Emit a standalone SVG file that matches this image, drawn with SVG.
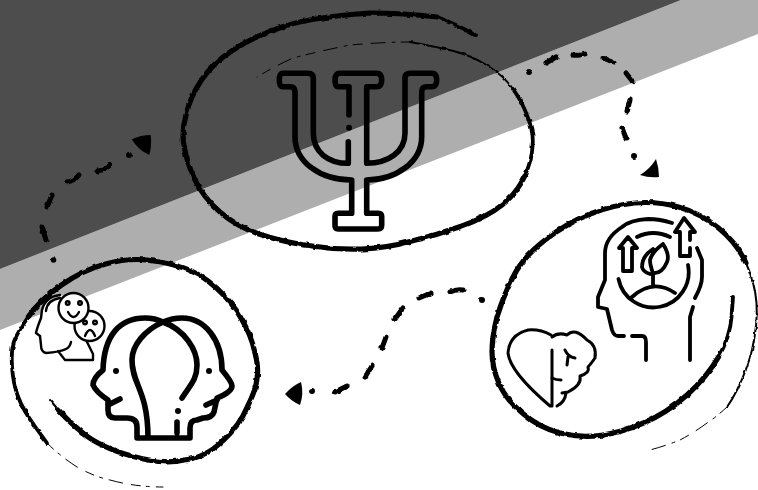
<svg xmlns="http://www.w3.org/2000/svg" width="758" height="490" viewBox="0 0 758 490">
<style>
.ink{fill:none;stroke:#000;stroke-linecap:round;stroke-linejoin:round}
.i5{stroke-width:5.600}.i3{stroke-width:3.800}.i2{stroke-width:2.400}
.b1{stroke-width:2}.b2{stroke-width:3.800}.b3{stroke-width:5.200}
.faint{fill:none;stroke:#000;stroke-width:1;stroke-linecap:round;stroke-dasharray:9 6 3 7 14 9}
.dash{fill:none;stroke:#000;stroke-width:5;stroke-linecap:round}
.w{fill:#fff}
</style>
<defs>
<filter id="rough" x="-5%" y="-5%" width="110%" height="110%">
<feTurbulence type="fractalNoise" baseFrequency="0.16" numOctaves="2" seed="4"/>
<feDisplacementMap in="SourceGraphic" scale="3" xChannelSelector="R" yChannelSelector="G"/>
</filter>
</defs>
<rect width="758" height="490" fill="#fff"/>
<polygon points="0,330 758,34 758,0 681,0 0,269" fill="#aeaeae"/>
<polygon points="0,0 681,0 0,269" fill="#4d4d4d"/>

<g id="connectors">
<g id="connector-left" filter="url(#rough)">
<path class="dash" d="M98,171 Q105,170 110,165 M67,182 Q74,181 79,175 M52,195 L47,207 M42,227 L46,240"/>
<circle cx="129" cy="155" r="3"/><circle cx="53.500" cy="260" r="2.800"/>
</g>
<path d="M131.700,139.300 Q141,135 150.700,135 Q152,146 149.300,155 Q138,150 131.700,139.300Z"/>
<g id="connector-top" filter="url(#rough)">
<path class="dash" d="M546,63 L556,57 M573,55 Q579,56 585,54 M603,58 L613,62 M626,73 L633,82 M630,100 L627,111 M622,128 L626,138"/>
<circle cx="529" cy="72" r="3"/><circle cx="634" cy="156" r="3"/>
</g>
<path d="M640,175 Q650,169 656,159 Q659,168 659,177 Q649,178 640,175Z"/>
<g id="connector-bottom" filter="url(#rough)">
<path class="dash" d="M450,292 Q456,289 463,290 M419,298 L431,293 M403,308 L395,319 M386,337 L382,348 M372,366 L365,377 M347,386 L335,392"/>
<circle cx="482" cy="300" r="3"/><circle cx="312" cy="391" r="3"/>
</g>
<path d="M285,394 Q292,386 301,382 Q304,394 300,405 Q291,401 285,394Z"/>
</g>

<g id="node-psi">
<g filter="url(#rough)">
<path class="ink b3" d="M437,17 Q403,13 370,13 Q303,18 278,28.500 Q253,37 233,50 Q213,63 201.500,80 Q190,97 186,115 Q181,133 184.500,148 Q187,163 195,180 Q203,197 220,212 Q237,227 262,235 Q287,243 312,246 Q337,250 362,249 Q387,248 412,241 Q437,235 462,226 Q487,217 502,205 Q517,193 524.500,176.500"/>
<path class="ink b2" d="M475,35 Q456,24 437,17 M524.500,176.500 Q532,160 532.500,146.500 Q534,133 528,118 Q523,103 513,89"/>
<path class="ink b1" d="M513,89 Q503,75 486.500,65 Q470,55 453.500,51 Q437,47 410,42"/>
</g>
<path class="faint" d="M410,42 Q385,42 350,45 Q320,51 293,58 Q275,66 257,77"/>
<path class="ink i5" d="M283,73.300 H308 Q313.300,73.300 313.300,78.300 V133 C313.300,152 328,163.300 348.300,163.300 V141.700 M349,115 V86.700 H338 Q335,86.700 335,80 Q335,73.300 340,73.300 H376.700 Q381.700,73.300 381.700,80 Q381.700,86.700 376.700,86.700 H366.700 V163.300 C388,163.300 405,152 405,133.300 V78 Q405,73.300 410,73.300 H432 Q436.700,73.300 436.700,80 Q436.700,86.700 431.700,86.700 H426.700 Q421.700,86.700 421.700,91.700 V136.700 C421.700,162 396,180 366.700,180 V213.300 H378.300 Q381.700,213.300 381.700,216.700 V225 Q381.700,229 378,229 H338 Q335,229 335,225 V216.700 Q335,213.300 338,213.300 H351.700 V180 C320,180 295,162 295,136.700 V91.700 Q295,86.700 290,86.700 H283 Q279.300,86.700 279.300,80 Q279.300,73.300 283,73.300"/>
<circle cx="349" cy="127.700" r="3"/>
</g>

<g id="node-faces">
<g filter="url(#rough)">
<path class="ink b1" d="M50,400 L58.500,410"/>
<path class="ink b3" d="M58.500,410 Q67,420 83.500,433.500 Q100,447 131.500,456 Q163,465 184,460 Q205,458 222.500,441 Q240,425 247,407.500 Q256,390 257,378.500 Q259,367 254.500,351 Q251,335 241.500,319 Q233,303 216.500,288 Q200,273 182.500,267.500 Q165,262 146.500,260 Q128,258 105.500,264 Q83,270 61.500,285 Q40,300 28.500,316.500"/>
<path class="ink b2" d="M28.500,316.500 Q17,333 14,341.500 Q11,350 12,366.500 Q13,383 18,396.500 Q23,410 35,426.500 L47,443"/>
</g>
<path class="faint" d="M47,443 Q60,456 77,467 Q95,477 110,480 Q135,487 163,487"/>
<path class="ink i5" d="M137,438 V427 Q137,418 127,418 H115 Q108,418 108,410 V400 Q96,392 93,385 Q93,378 103,370 C104,335 120,318 145,318 Q155,318 163,322 C185,330 197,350 197,365 C197,380 190,385 182,398 M163,322 C145,330 132,345 132,360 C132,385 148,390 148,438 M137,438 H190 V428 Q190,420 197,420 L203,418 Q212,418 214,412 L217,398 Q232,392 232,386 Q232,382 222,370 C222,340 205,318 182,318 Q172,318 163,322 M177,422 V433 M108,405 L120,399 M206,405 L217,400"/>
<circle cx="116" cy="371" r="3"/><circle cx="209" cy="371" r="3"/><circle cx="178" cy="411" r="3"/>
<g class="ink i2">
<path class="w" d="M60,295 Q45,297 42,310 L41,318 Q37,328 36,333 L40,336 L41,345 Q41,352 46,353 L58,351 L65,360 H93 V354 L86,335 L80,300Z" style="stroke:none"/>
<path d="M60,295 Q45,297 42,310 L41,318 Q37,328 36,333 L40,336 L41,345 Q41,352 46,353 Q60,352 66,349 Q70,347 71,342 M58,351 L65,360 H93 V354 L86,340 M46,311 Q47,300 60,298"/>
<circle class="w" cx="89.500" cy="326" r="15"/>
<circle class="w" cx="73.500" cy="308" r="15"/>
<circle cx="67.700" cy="303" r="1.800"/><circle cx="80" cy="303" r="1.800"/>
<path d="M68,312 Q73.500,322 79,312"/>
<circle cx="85" cy="322.500" r="1.800"/><circle cx="95" cy="322.500" r="1.800"/>
<path d="M85,336 Q90,324 95,336"/>
</g>
</g>

<g id="node-growth">
<g filter="url(#rough)">
<path class="ink b2" d="M733,297 L731.500,317 Q730,337 718.500,357"/>
<path class="ink b3" d="M718.500,357 Q707,377 687,395 Q667,413 643.500,423 Q620,433 600,435.500 Q580,438 560,433 Q540,428 523.500,414 Q506,400 499,383.500 Q492,367 492,352 Q492,337 497,317 Q503,297 513,277 Q523,257 545,240 Q567,223 590,214 Q613,205 635,203 Q657,201 678.500,207 Q700,213 718.500,228 Q737,243 746,263"/>
<path class="ink b1" d="M746,263 Q755,283 756.500,303 Q758,323 752,350 Q747,370 737,390 Q732,400 727,407"/>
</g>
<path class="faint" d="M727,407 Q715,418 707,423 Q695,432 680,440 Q665,446 650,450"/>
<g class="ink i3">
<path d="M672,223 Q660,219 648,219 Q630,220 622,227 Q605,238 605,253 V280 L598,297 V307 L607,309 L612,330 Q614,336 618,336 H624 M632,336 H642 Q646,336 646,342 V360 M690,360 V317 L693,307 M695,298 Q702,285 702,277 V260 L697,248"/>
<path d="M618.500,279 A35,35 0 0 0 688,265 M637,237 Q653,229 670,237"/>
<path d="M628,237 L637,248 H632 V271 H623 V248 H619Z"/>
<path d="M690,240 V232 H695 L684,218 L675,232 H680 V256 H690 V248"/>
<path d="M653,249 Q642,256 642,267 Q643,272 650,274 M663,244 Q670,255 667,262 Q662,274 653,273 Q650,265 650,260 Q652,252 663,244 M653,274 V285 M632,297 Q653,278 675,293"/>
</g>
<g class="ink" style="stroke-width:3">
<path d="M551,335 Q540,329 528,330 Q509,335 508,353 Q510,372 550,406 H552 V350"/>
<path d="M552,337 Q558,332 567,335 Q575,327 587,340 Q597,345 595,358 Q590,365 588,367 Q590,373 580,376 Q582,385 568,392 L562,393 M566,393 Q565,402 557,406"/>
<path d="M565,350 Q568,357 575,358 M568,357 L567,365 M552,378 Q556,380 561,380"/>
</g>
</g>
</svg>
